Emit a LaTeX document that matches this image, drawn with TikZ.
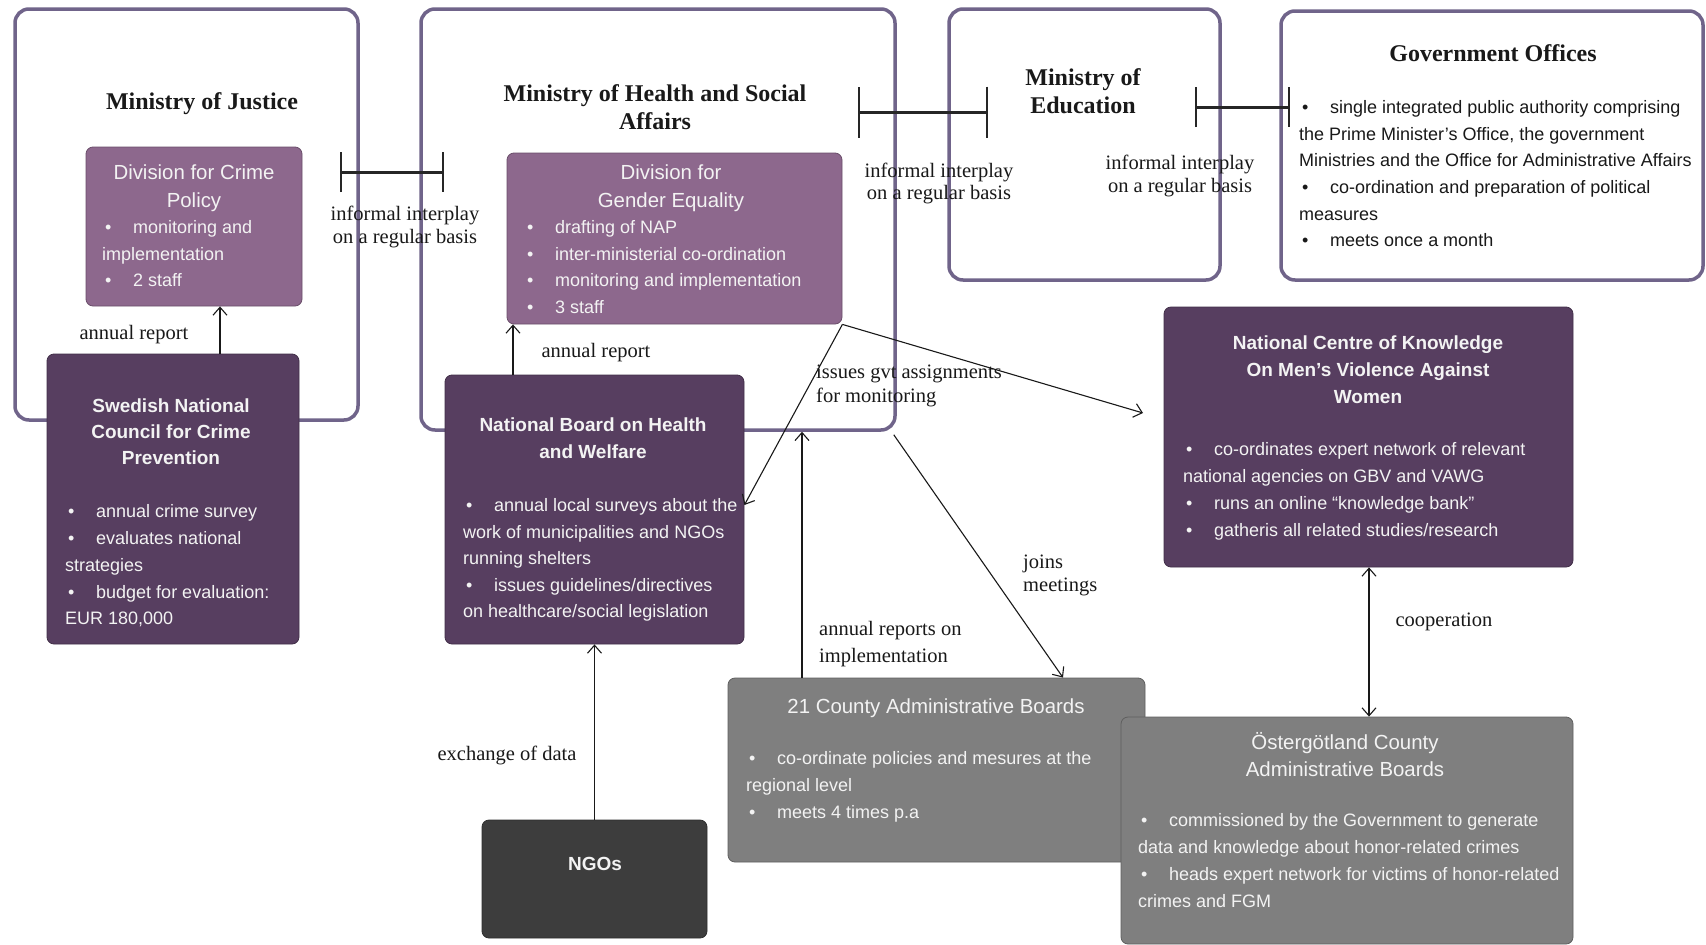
\documentclass[tikz,border=0pt]{standalone}
\usepackage{fontspec}
\setmainfont{Liberation Serif}
\setsansfont{Liberation Sans}
\usetikzlibrary{arrows.meta,fit}
\definecolor{contc}{RGB}{112,100,138}
\definecolor{mauve}{RGB}{141,104,141}
\definecolor{dpurp}{RGB}{87,62,96}
\definecolor{gbox}{RGB}{127,127,127}
\definecolor{ngoc}{RGB}{61,61,61}
\definecolor{wtxt}{RGB}{243,243,243}
\newcommand{\bu}{\makebox[31pt][l]{\hspace{3pt}\textbullet}}
\begin{document}
\begin{tikzpicture}[x=1pt,y=-1pt,
  container/.style={draw=contc, line width=3.5pt, rounded corners=14pt, inner sep=0pt, fill=white},
  filled/.style={fill=#1, draw=#1!75!black, line width=0.8pt, rounded corners=7pt, inner sep=0pt},
  ttl/.style={font=\bfseries\fontsize{24}{28}\selectfont, align=center, inner sep=0pt, anchor=north, text=black!90},
  lbl/.style={font=\fontsize{20.5}{#1}\selectfont, inner sep=0pt, text=black!90},
  hdr/.style={font=\sffamily\fontsize{20.4}{#1}\selectfont, align=center, inner sep=0pt, anchor=north, text=wtxt},
  hdb/.style={font=\sffamily\bfseries\fontsize{19}{#1}\selectfont, align=center, inner sep=0pt, anchor=north, text=wtxt},
  blist/.style={font=\sffamily\fontsize{18}{#1}\selectfont, align=left, inner sep=0pt, anchor=north west, text=wtxt},
  arr/.style={line width=1.1pt, draw=black!90, -{Straight Barb[length=8pt,width=14pt]}},
  arrboth/.style={line width=1.1pt, draw=black!90, {Straight Barb[length=8pt,width=14pt]}-{Straight Barb[length=8pt,width=14pt]}},
  inter/.style={line width=3pt, draw=black!85, {Bar[width=#1,line width=1.8pt]}-{Bar[width=#1,line width=1.8pt]}}
]
\fill[white] (0,0) rectangle (1706,945);
\useasboundingbox (0,0) rectangle (1706,945);

% containers
\node[container, fit={(15,9) (358,420)}] (moj) {};
\node[container, fit={(421,9) (895,430)}] (moh) {};
\node[container, fit={(949,9) (1220,280)}] (moe) {};
\node[container, fit={(1281,11) (1703,280)}] (gov) {};

% titles
\node[ttl] (mojT) at (202,92) {Ministry of Justice};
\node[ttl] (mohT) at (655,84.5) {Ministry of Health and Social\\Affairs};
\node[ttl] (moeT) at (1083,68) {Ministry of\\Education};
\node[ttl] (govT) at (1493,44) {Government Offices};
\node[blist=26.6, text=black!90] (govL) at (1299,100.5) {\bu single integrated public authority comprising\\the Prime Minister’s Office, the government\\Ministries and the Office for Administrative Affairs\\\bu co-ordination and preparation of political\\measures\\\bu meets once a month};

% interplay bars
\coordinate (i1a) at (340,172); \coordinate (i1b) at (444,172);
\coordinate (i2a) at (858,112); \coordinate (i2b) at (988,112);
\coordinate (i3a) at (1195,107); \coordinate (i3b) at (1290,107);
\draw[inter=40pt] (i1a) -- (i1b);
\draw[inter=51pt] (i2a) -- (i2b);
\draw[inter=40pt] (i3a) -- (i3b);

% labels
\node[lbl=23, align=center, anchor=north] (l1) at (405,206) {informal interplay\\on a regular basis};
\node[lbl=22, align=center, anchor=north] (l2) at (939,163) {informal interplay\\on a regular basis};
\node[lbl=23, align=center, anchor=north] (l3) at (1180,155) {informal interplay\\on a regular basis};
\node[lbl=23, anchor=north] (l4) at (134,325) {annual report};
\node[lbl=23, anchor=north] (l5) at (596,343) {annual report};
\node[lbl=24, align=left, anchor=north west] (l6) at (816,365) {issues gvt assignments\\for monitoring};
\node[lbl=23, align=left, anchor=north west] (l7) at (1023,555) {joins\\meetings};
\node[lbl=27, align=left, anchor=north west] (l8) at (819,621) {annual reports on\\implementation};
\node[lbl=23, anchor=north] (l9) at (507,746) {exchange of data};
\node[lbl=23, anchor=north] (l10) at (1444,613) {cooperation};

% filled boxes
\node[filled=mauve, fit={(86,147) (302,306)}] (dcp) {};
\node[filled=mauve, fit={(507,153) (842,324)}] (dge) {};
\node[filled=dpurp, fit={(47,354) (299,644)}] (swe) {};
\node[filled=dpurp, fit={(445,375) (744,644)}] (nb) {};
\node[filled=dpurp, fit={(1164,307) (1573,567)}] (nc) {};
\node[filled=gbox, fit={(728,678) (1145,862)}] (cty) {};
\node[filled=gbox, fit={(1121,717) (1573,944)}] (ost) {};
\node[filled=ngoc, fit={(482,820) (707,938)}] (ngo) {};

% box texts
\node[hdr=28] (dcpH) at (194,164.5) {Division for Crime\\Policy};
\node[blist=26.5] (dcpL) at (102,220.5) {\bu monitoring and\\implementation\\\bu 2 staff};

\node[hdr=28] (dgeH) at (671,164.5) {Division for\\Gender Equality};
\node[blist=26.5] (dgeL) at (524,220.5) {\bu drafting of NAP\\\bu inter-ministerial co-ordination\\\bu monitoring and implementation\\\bu 3 staff};

\node[hdb=26] (sweH) at (171,399) {Swedish National\\Council for Crime\\Prevention};
\node[blist=26.8] (sweL) at (65,504.5) {\bu annual crime survey\\\bu evaluates national\\strategies\\\bu budget for evaluation:\\EUR 180,000};

\node[hdb=27] (nbH) at (593,418) {National Board on Health\\and Welfare};
\node[blist=26.5] (nbL) at (463,498.5) {\bu annual local surveys about the\\work of municipalities and NGOs\\running shelters\\\bu issues guidelines/directives\\on healthcare/social legislation};

\node[hdb=27] (ncH) at (1368,336) {National Centre of Knowledge\\On Men’s Violence Against\\Women};
\node[blist=27] (ncL) at (1183,442.5) {\bu co-ordinates expert network of relevant\\national agencies on GBV and VAWG\\\bu runs an online “knowledge bank”\\\bu gatheris all related studies/research};

\node[hdr=27] (ctyH) at (936,698.5) {21 County Administrative Boards};
\node[blist=27] (ctyL) at (746,751.5) {\bu co-ordinate policies and mesures at the\\regional level\\\bu meets 4 times p.a};

\node[hdr=27] (ostH) at (1345,732.5) {Östergötland County\\Administrative Boards};
\node[blist=27] (ostL) at (1138,813.5) {\bu commissioned by the Government to generate\\data and knowledge about honor-related crimes\\\bu heads expert network for victims of honor-related\\crimes and FGM};

\node[hdb=26] (ngoH) at (595,857) {NGOs};

% connectors
\coordinate (x1) at (220,0);
\draw[arr] (x1 |- swe.north) -- (x1 |- dcp.south);
\coordinate (x2) at (513,0);
\draw[arr] (x2 |- nb.north) -- (x2 |- dge.south);
\coordinate (y3) at (0,505);
\draw[arr] (dge.south east) -- (nb.east |- y3);
\coordinate (e4) at (1143,413);
\draw[arr] (dge.south east) -- (e4);
\coordinate (x5) at (1063,0);
\draw[arr] ([shift={(-3pt,-3pt)}]moh.south east) -- (x5 |- cty.north);
\coordinate (x6) at (802,0);
\draw[arr] (x6 |- cty.north) -- (x6 |- moh.south);
\draw[arr] (ngo.north) -- (nb.south);
\coordinate (x8) at (1369,0);
\draw[arrboth] (x8 |- nc.south) -- (x8 |- ost.north);
\end{tikzpicture}
\end{document}
